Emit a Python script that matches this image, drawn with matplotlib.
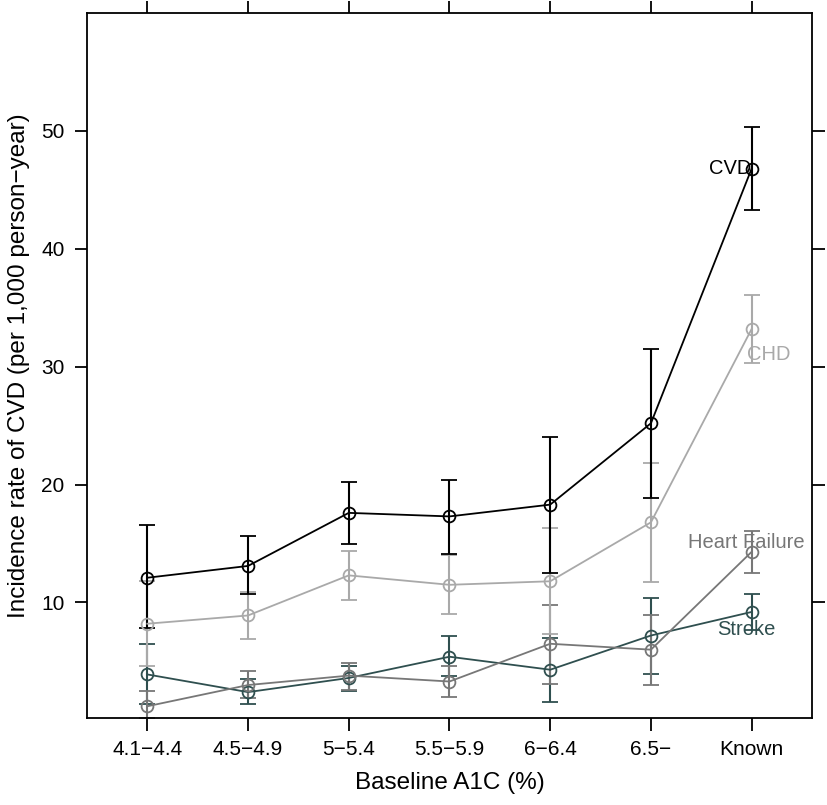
import numpy as np
import matplotlib.pyplot as plt

plt.rcParams['font.family'] = ['Liberation Sans', 'DejaVu Sans']

# Data
categories = ["4.1\u22124.4", "4.5\u22124.9", "5\u22125.4", "5.5\u22125.9", "6\u22126.4", "6.5\u2212", "Known"]

cvd = [12.1, 13.1, 17.6, 17.3, 18.3, 25.2, 46.8]
cvd_lo = [7.8, 10.7, 15.0, 14.1, 12.5, 18.9, 43.3]
cvd_hi = [16.6, 15.6, 20.2, 20.4, 24.0, 31.5, 50.3]

chd = [8.2, 8.9, 12.3, 11.5, 11.8, 16.8, 33.2]
chd_lo = [4.6, 6.9, 10.2, 9.0, 7.3, 11.7, 30.3]
chd_hi = [11.8, 10.9, 14.4, 14.0, 16.3, 21.8, 36.1]

hf = [1.2, 3.0, 3.8, 3.3, 6.5, 6.0, 14.3]
hf_lo = [0.2, 1.9, 2.6, 2.0, 3.1, 3.0, 12.5]
hf_hi = [2.5, 4.2, 4.9, 4.6, 9.8, 8.9, 16.1]

stroke = [3.9, 2.4, 3.6, 5.4, 4.3, 7.2, 9.2]
stroke_lo = [1.4, 1.4, 2.5, 3.8, 1.6, 3.9, 7.7]
stroke_hi = [6.5, 3.5, 4.6, 7.2, 7.0, 10.4, 10.7]

series = [
    ("Stroke", stroke, stroke_lo, stroke_hi, "#2f4f4f"),
    ("Heart Failure", hf, hf_lo, hf_hi, "#777777"),
    ("CHD", chd, chd_lo, chd_hi, "#a9a9a9"),
    ("CVD", cvd, cvd_lo, cvd_hi, "black"),
]

fig = plt.figure(figsize=(8.27, 8.05), dpi=100)
ax = fig.add_axes([0.105, 0.108, 0.877, 0.876])

x = np.arange(1, len(categories) + 1)
for name, y, lo, hi, col in series:
    y = np.array(y)
    err = [y - np.array(lo), np.array(hi) - y]
    ax.errorbar(x, y, yerr=err, color=col, ecolor=col, lw=1.3, elinewidth=1.5,
                capsize=5.5, capthick=1.5, marker='o', ms=8.5, mfc='none',
                mec=col, mew=1.3)

# direct labels at the last point
ax.text(7.0, cvd[-1], "CVD", color="black", fontsize=14.5, ha='right', va='center')
ax.text(6.95, 31.0, "CHD", color="#a9a9a9", fontsize=14.5, ha='left', va='center')
ax.text(6.95, 15.1, "Heart Failure", color="#777777", fontsize=14.5, ha='center', va='center')
ax.text(6.95, 7.7, "Stroke", color="#2f4f4f", fontsize=14.5, ha='center', va='center')

ax.set_xlim(0.4, 7.6)
ax.set_ylim(0.2, 60)
ax.set_xticks(x)
ax.set_xticklabels(categories)
ax.set_yticks([10, 20, 30, 40, 50])

ax.tick_params(axis='both', direction='out', length=9, width=1.3, labelsize=15,
               pad=7, top=True, right=True)
for s in ax.spines.values():
    s.set_linewidth(1.3)

ax.set_xlabel("Baseline A1C (%)", fontsize=17.5, labelpad=9)
ax.set_ylabel("Incidence rate of CVD (per 1,000 person\u2212year)", fontsize=17.5, labelpad=8)

plt.savefig("out.png", dpi=100)
